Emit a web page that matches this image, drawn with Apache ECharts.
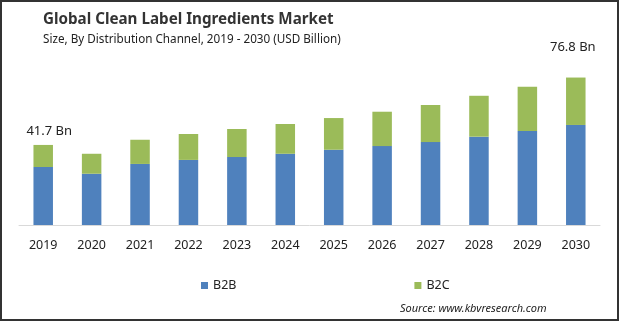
<!DOCTYPE html>
<html>
<head>
<meta charset="utf-8">
<script src="https://cdn.jsdelivr.net/npm/echarts@6/dist/echarts.min.js"></script>
<style>
html,body{margin:0;padding:0;background:#fff;}
#chart{width:620px;height:322px;}
</style>
</head>
<body>
<div id="chart"></div>
<script>
const categories = ['2019','2020','2021','2022','2023','2024','2025','2026','2027','2028','2029','2030'];
const b2b = [30.2, 26.7, 31.8, 33.9, 35.4, 37.1, 39.2, 41.1, 43.2, 46.0, 49.0, 52.1];
const b2c = [11.5, 10.4, 12.6, 13.5, 14.6, 15.5, 16.5, 17.9, 19.3, 21.3, 23.0, 24.7];
const totalLabels = {0: '41.7 Bn', 11: '76.8 Bn'};

const FONT = 'Noto Sans';
const labelCfg = {
  0: {distance: 7, offset: [6, 0]},
  11: {distance: 23, offset: [-3, 0]}
};

const b2cData = b2c.map((v, i) => {
  if (totalLabels[i] !== undefined) {
    return {
      value: v,
      label: {
        show: true, position: 'top',
        distance: labelCfg[i].distance, offset: labelCfg[i].offset,
        formatter: totalLabels[i],
        color: '#222', fontFamily: FONT, fontSize: 13, lineHeight: 14
      }
    };
  }
  return v;
});

const chart = echarts.init(document.getElementById('chart'), null, {renderer: 'canvas'});
chart.setOption({
  animation: false,
  grid: {left: 19, right: 20, top: 33, bottom: 97},
  xAxis: {
    type: 'category',
    data: categories,
    axisLine: {lineStyle: {color: '#d9d9d9', width: 1}},
    axisTick: {show: false},
    axisLabel: {color: '#222', fontFamily: FONT, fontSize: 12.5, margin: 14}
  },
  yAxis: {
    type: 'value', min: 0, max: 100, show: false,
    splitLine: {show: false}
  },
  legend: {
    left: 196, top: 274,
    itemWidth: 7, itemHeight: 7, itemGap: 178,
    icon: 'rect',
    textStyle: {color: '#222', fontFamily: FONT, fontSize: 12.5},
    data: ['B2B', 'B2C']
  },
  series: [
    {name: 'B2B', type: 'bar', stack: 'total', data: b2b, barWidth: 19.5,
     itemStyle: {color: '#4f81bd'}},
    {name: 'B2C', type: 'bar', stack: 'total', data: b2cData, barWidth: 19.5,
     itemStyle: {color: '#9bbb59'}}
  ],
  graphic: [
    {type: 'rect', shape: {x: 1, y: 1, width: 617, height: 319},
     style: {fill: 'none', stroke: '#333', lineWidth: 2}, silent: true},
    {type: 'text', x: 43, y: 20,
     style: {text: 'Global Clean Label Ingredients Market', fill: '#333',
       font: 'bold 15.2px "Noto Sans"', textVerticalAlign: 'middle'}},
    {type: 'text', x: 43, y: 40,
     style: {text: 'Size, By Distribution Channel, 2019 - 2030 (USD Billion)', fill: '#222',
       font: '11.7px "Noto Sans"', textVerticalAlign: 'middle'}},
    {type: 'text', x: 400, y: 309,
     style: {text: 'Source: www.kbvresearch.com', fill: '#222',
       font: 'italic 11px "Noto Sans"', textVerticalAlign: 'middle'}}
  ]
});
</script>
</body>
</html>
